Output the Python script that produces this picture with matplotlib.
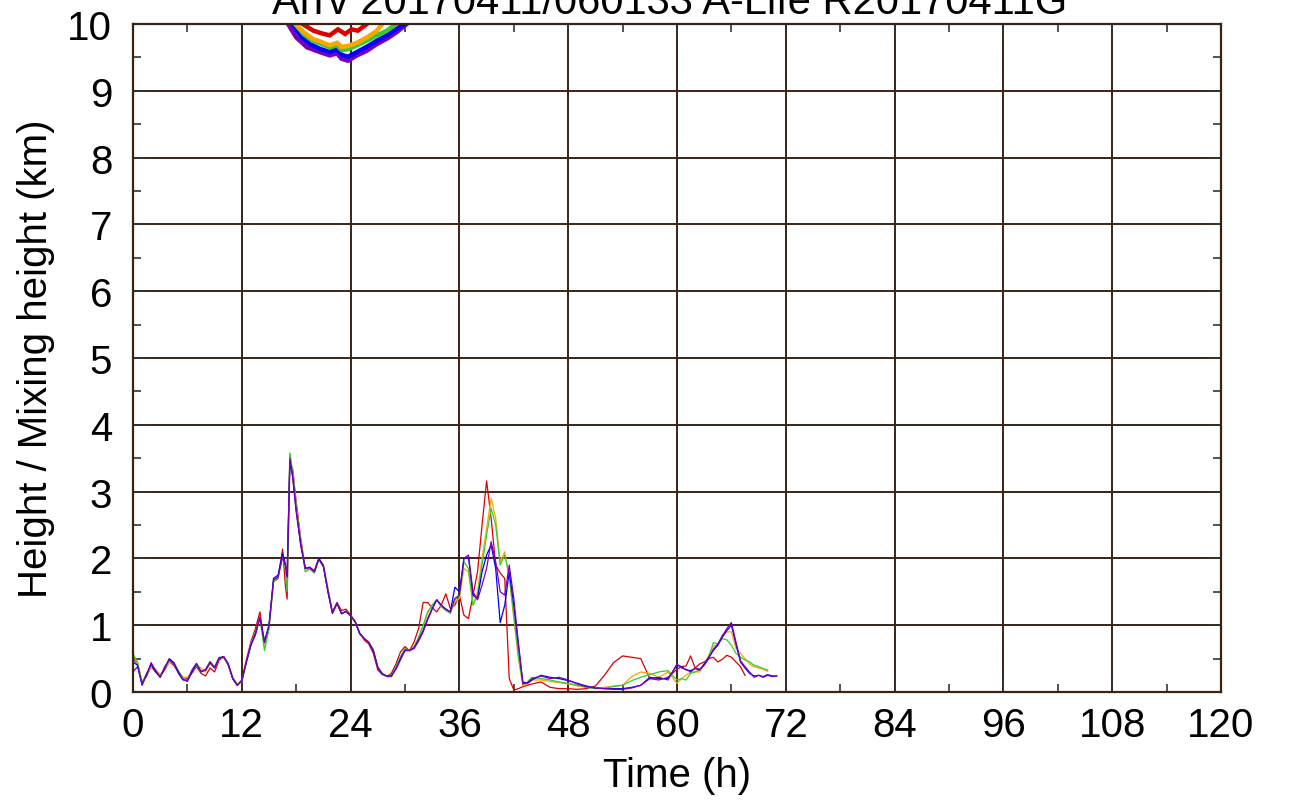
import matplotlib
matplotlib.use("Agg")
import matplotlib.pyplot as plt
from matplotlib.ticker import MultipleLocator

plt.rcParams['font.family'] = ['Liberation Sans', 'DejaVu Sans']

# time grid (h) shared by the thin mixing-height lines
t = [0, 0.5, 1, 1.5, 2, 2.5, 3, 3.5, 4, 4.5,
     5, 5.5, 6, 6.5, 7, 7.5, 8, 8.5, 9, 9.5,
     10, 10.5, 11, 11.5, 12, 12.5, 13, 13.5, 14, 14.5,
     15, 15.5, 16, 16.5, 16.8, 17, 17.3, 17.6,
     18, 18.5, 19, 19.5, 20, 20.5, 21, 21.5, 22, 22.5,
     23, 23.5, 24, 24.5, 25, 25.5, 26, 26.5, 27, 27.5,
     28, 28.5, 29, 29.5, 30, 30.5, 31, 31.5, 32, 32.5,
     33, 33.5, 34, 34.5, 35, 35.5, 36, 36.5, 37, 37.5,
     38, 38.5, 39, 39.5, 40, 40.5, 41, 41.5, 42, 42.5, 43, 43.5, 44,
     45, 46, 47, 48, 49, 50, 51, 52, 53, 54, 55, 56, 57, 58, 59, 60,
     60.5, 61, 61.5, 62, 62.5, 63, 63.5, 64, 64.5, 65, 65.5, 66, 66.5,
     67, 67.5, 68, 68.5, 69, 69.5, 70, 70.5, 71]

mix_red = [0.50, 0.42, 0.14, 0.24, 0.38, 0.30, 0.24, 0.33, 0.45, 0.40,
           0.30, 0.22, 0.20, 0.28, 0.38, 0.28, 0.24, 0.36, 0.30, 0.48,
           0.52, 0.40, 0.20, 0.10, 0.18, 0.48, 0.75, 0.95, 1.20, 0.72,
           0.98, 1.65, 1.70, 2.14, 1.60, 1.39, 3.40, 3.35,
           2.85, 2.30, 1.85, 1.86, 1.82, 2.00, 1.90, 1.55, 1.20, 1.34,
           1.22, 1.24, 1.15, 1.06, 0.88, 0.78, 0.72, 0.58, 0.33, 0.26,
           0.23, 0.28, 0.42, 0.60, 0.68, 0.62, 0.75, 0.95, 1.34, 1.34,
           1.26, 1.20, 1.30, 1.47, 1.25, 1.30, 1.45, 1.15, 1.10, 1.45,
           1.80, 2.50, 3.16, 2.60, 1.90, 1.78, 1.70, 0.20, 0.03, 0.05, 0.08, 0.10, 0.12,
           0.15, 0.07, 0.05, 0.05, 0.04, 0.05, 0.09, 0.25, 0.44, 0.54, 0.52, 0.50, 0.20, 0.18, 0.22, 0.34,
           0.38, 0.39, 0.54, 0.36, 0.42, 0.45, 0.50, 0.52, 0.45, 0.49, 0.55, 0.52, 0.45,
           0.38, 0.25]

mix_orange = [0.57, 0.42, 0.15, 0.26, 0.38, 0.34, 0.26, 0.35, 0.45, 0.42,
              0.32, 0.22, 0.22, 0.30, 0.40, 0.36, 0.30, 0.42, 0.36, 0.50,
              0.52, 0.42, 0.22, 0.12, 0.16, 0.44, 0.70, 0.88, 1.10, 0.70,
              0.95, 1.66, 1.72, 2.06, 1.88, 1.65, 3.56, 3.30,
              2.78, 2.25, 1.82, 1.84, 1.80, 1.98, 1.88, 1.52, 1.18, 1.33,
              1.18, 1.20, 1.14, 1.06, 0.88, 0.80, 0.75, 0.63, 0.37, 0.27,
              0.23, 0.23, 0.37, 0.52, 0.64, 0.62, 0.68, 0.80, 0.98, 1.18,
              1.30, 1.38, 1.28, 1.22, 1.18, 1.35, 1.40, 1.85, 1.80, 1.30,
              1.50, 2.00, 2.45, 2.90, 2.60, 1.95, 2.10, 1.70, 1.10, 0.50, 0.10, 0.12, 0.18,
              0.18, 0.16, 0.14, 0.12, 0.09, 0.07, 0.06, 0.07, 0.09, 0.10, 0.23, 0.30, 0.28, 0.22, 0.30, 0.13,
              0.20, 0.25, 0.30, 0.30, 0.30, 0.42, 0.55, 0.69, 0.70, 0.85, 0.90, 0.90, 0.65,
              0.58, 0.50, 0.42, 0.38, 0.36, 0.34, 0.31]

mix_green = [0.57, 0.45, 0.14, 0.28, 0.40, 0.32, 0.24, 0.36, 0.47, 0.44,
             0.32, 0.20, 0.18, 0.30, 0.40, 0.30, 0.34, 0.46, 0.38, 0.52,
             0.52, 0.42, 0.22, 0.11, 0.16, 0.44, 0.72, 0.90, 1.10, 0.62,
             0.95, 1.65, 1.72, 2.05, 1.85, 1.50, 3.58, 3.30,
             2.78, 2.25, 1.80, 1.84, 1.78, 1.98, 1.88, 1.52, 1.18, 1.32,
             1.18, 1.20, 1.14, 1.06, 0.88, 0.80, 0.75, 0.64, 0.38, 0.28,
             0.23, 0.23, 0.38, 0.53, 0.65, 0.62, 0.68, 0.82, 1.00, 1.20,
             1.30, 1.38, 1.28, 1.22, 1.18, 1.38, 1.45, 1.95, 1.85, 1.30,
             1.45, 1.90, 2.35, 2.75, 2.50, 1.90, 2.05, 1.75, 1.15, 0.55, 0.12, 0.15, 0.22,
             0.20, 0.18, 0.15, 0.13, 0.10, 0.07, 0.05, 0.06, 0.08, 0.10, 0.17, 0.22, 0.26, 0.30, 0.32, 0.18,
             0.20, 0.18, 0.28, 0.30, 0.33, 0.40, 0.50, 0.74, 0.72, 0.80, 0.78, 0.70, 0.58,
             0.52, 0.48, 0.45, 0.40, 0.38, 0.35, 0.33]

mix_blue = [0.45, 0.40, 0.10, 0.27, 0.42, 0.30, 0.22, 0.36, 0.50, 0.44,
            0.30, 0.19, 0.16, 0.30, 0.42, 0.31, 0.33, 0.44, 0.36, 0.51,
            0.53, 0.42, 0.20, 0.10, 0.17, 0.45, 0.70, 0.87, 1.12, 0.76,
            1.00, 1.70, 1.75, 2.08, 1.92, 1.72, 3.45, 3.22,
            2.70, 2.20, 1.85, 1.87, 1.80, 2.00, 1.88, 1.50, 1.18, 1.33,
            1.17, 1.21, 1.14, 1.05, 0.88, 0.80, 0.74, 0.62, 0.37, 0.27,
            0.24, 0.24, 0.35, 0.50, 0.63, 0.62, 0.66, 0.78, 0.92, 1.10,
            1.25, 1.38, 1.30, 1.24, 1.20, 1.57, 1.50, 2.00, 2.02, 1.45,
            1.40, 1.80, 2.05, 2.20, 1.85, 1.04, 1.30, 1.80, 1.30, 0.70, 0.15, 0.13, 0.18,
            0.25, 0.22, 0.20, 0.17, 0.13, 0.09, 0.06, 0.05, 0.05, 0.05, 0.07, 0.10, 0.22, 0.20, 0.20, 0.40,
            0.38, 0.33, 0.32, 0.35, 0.33, 0.42, 0.52, 0.62, 0.70, 0.82, 0.92, 1.00, 0.72,
            0.45, 0.36, 0.28, 0.24, 0.25, 0.23, 0.26, 0.24, 0.24]

mix_purple = [0.30, 0.38, 0.12, 0.25, 0.44, 0.32, 0.22, 0.38, 0.48, 0.42,
              0.28, 0.18, 0.17, 0.33, 0.43, 0.30, 0.33, 0.45, 0.36, 0.50,
              0.53, 0.42, 0.20, 0.10, 0.17, 0.45, 0.70, 0.85, 1.12, 0.74,
              1.00, 1.68, 1.72, 2.02, 1.90, 1.78, 3.50, 3.25,
              2.72, 2.20, 1.85, 1.86, 1.80, 1.99, 1.88, 1.50, 1.18, 1.33,
              1.17, 1.21, 1.14, 1.05, 0.87, 0.80, 0.74, 0.62, 0.36, 0.27,
              0.24, 0.24, 0.34, 0.48, 0.62, 0.62, 0.65, 0.76, 0.90, 1.08,
              1.24, 1.38, 1.30, 1.24, 1.20, 1.40, 1.45, 2.00, 2.05, 1.50,
              1.38, 1.60, 1.85, 2.25, 1.95, 1.50, 1.45, 1.90, 1.40, 0.75, 0.12, 0.14, 0.20,
              0.24, 0.20, 0.22, 0.18, 0.12, 0.08, 0.06, 0.05, 0.04, 0.04, 0.06, 0.10, 0.20, 0.22, 0.18, 0.42,
              0.36, 0.34, 0.30, 0.36, 0.34, 0.40, 0.50, 0.64, 0.72, 0.84, 0.95, 1.04, 0.75,
              0.47, 0.38, 0.30, 0.22, 0.25, 0.22, 0.25, 0.23, 0.24]

# trajectory heights near the top (clipped at 10 km)
traj_red_t = [18.4, 18.7, 19.9, 20.8, 21.7, 22.6, 23.4, 24.1, 24.8, 25.8, 26.3]
traj_red_h = [10.3, 10.0, 9.90, 9.86, 9.83, 9.92, 9.85, 9.92, 9.90, 10.0, 10.3]
traj_orange_t = [17.5, 17.9, 18.8, 19.8, 20.8, 21.7, 22.5, 23.0, 23.7, 24.7, 25.8, 26.9, 27.5, 28.0]
traj_orange_h = [10.4, 10.0, 9.88, 9.78, 9.73, 9.68, 9.72, 9.66, 9.67, 9.72, 9.80, 9.90, 10.0, 10.3]
traj_green_t = [17.3, 17.9, 18.8, 19.8, 20.8, 21.7, 22.5, 23.0, 23.7, 24.7, 25.8, 26.9, 28.0, 29.0, 29.6]
traj_green_h = [10.4, 10.0, 9.85, 9.75, 9.70, 9.65, 9.68, 9.61, 9.62, 9.68, 9.75, 9.83, 9.90, 10.0, 10.3]
traj_blue_t = [17.0, 17.6, 18.5, 19.5, 20.6, 21.7, 22.5, 23.0, 23.7, 24.7, 25.8, 26.9, 28.0, 29.0, 29.9, 30.5]
traj_blue_h = [10.4, 10.0, 9.82, 9.70, 9.63, 9.58, 9.62, 9.54, 9.51, 9.58, 9.66, 9.75, 9.83, 9.92, 10.0, 10.3]
traj_purple_t = [16.5, 17.1, 18.0, 19.2, 20.6, 21.7, 22.5, 23.0, 23.7, 24.7, 25.8, 26.9, 28.0, 29.1, 30.2, 30.8]
traj_purple_h = [10.4, 10.0, 9.80, 9.65, 9.58, 9.53, 9.56, 9.48, 9.45, 9.53, 9.60, 9.70, 9.78, 9.88, 10.0, 10.3]

colors = ['#dd0000', '#ffa500', '#33cc33', '#0000ff', '#7a00b8']
grid_col = '#3b2314'

fig = plt.figure(figsize=(12.92, 8.03), dpi=100)
ax = fig.add_axes([133/1292, 1 - 693/803, (1221-133)/1292, (693-25)/803])

mix = [mix_red, mix_orange, mix_green, mix_blue, mix_purple]
for vals, c in zip(mix, colors):
    ax.plot(t[:len(vals)], vals, color=c, lw=0.9)

trajs = [(traj_red_t, traj_red_h), (traj_orange_t, traj_orange_h),
         (traj_green_t, traj_green_h), (traj_blue_t, traj_blue_h),
         (traj_purple_t, traj_purple_h)]
for (tt, hh), c in zip(trajs[::-1], colors[::-1]):
    ax.plot(tt, hh, color=c, lw=3.2, solid_joinstyle='miter')

ax.set_xlim(0, 120)
ax.set_ylim(0, 10)
ax.xaxis.set_major_locator(MultipleLocator(12))
ax.xaxis.set_minor_locator(MultipleLocator(6))
ax.yaxis.set_major_locator(MultipleLocator(1))
ax.yaxis.set_minor_locator(MultipleLocator(0.5))
ax.grid(True, which='major', color=grid_col, lw=1.4)
ax.set_axisbelow(True)
for s in ax.spines.values():
    s.set_color(grid_col)
    s.set_linewidth(1.6)
ax.tick_params(which='both', direction='in', top=True, right=True,
               colors='#333333', labelcolor='black', labelsize=29)
ax.tick_params(which='major', length=10, width=1.2)
ax.tick_params(axis='x', which='major', pad=10)
ax.tick_params(axis='y', which='major', pad=15)
ax.tick_params(which='minor', length=6, width=1.2)

ax.set_xlabel('Time (h)', fontsize=29, labelpad=9)
ax.set_ylabel('Height / Mixing height (km)', fontsize=29, labelpad=9)

fig.text(670/1292, 1 - 14/803, 'Arrv 20170411/060133 A-Life R20170411G',
         fontsize=30, ha='center', va='baseline')

fig.savefig('out.png', dpi=100)
